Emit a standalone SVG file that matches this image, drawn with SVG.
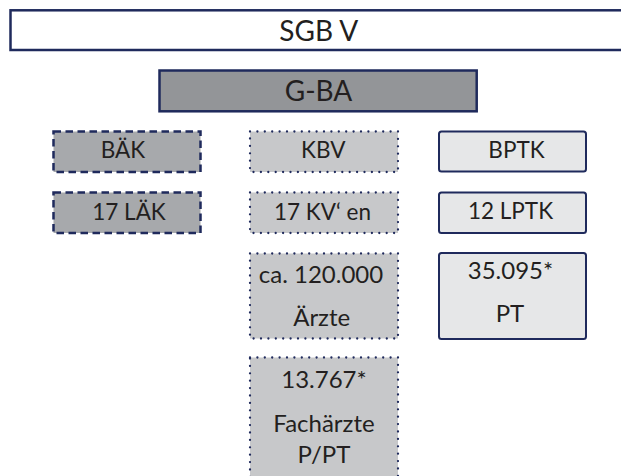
<svg xmlns="http://www.w3.org/2000/svg" width="621" height="476" viewBox="0 0 621 476">
<style>
text{font-family:Lato,"Liberation Sans",Arial,sans-serif;fill:#231f20;text-anchor:middle}
.big{font-size:28px}
.sm{font-size:22.5px}
.md{font-size:24px}
.solid{stroke:#1f2a5c;stroke-width:2.5}
.dash{fill:#a7a9ac;stroke:#1f2a5c;stroke-width:2.5;stroke-dasharray:7.5 4.5}
.dot{fill:#c7c8ca;stroke:#1f2a5c;stroke-width:2.3;stroke-dasharray:0 7.4;stroke-linecap:round}
.pt{fill:#e6e7e8;stroke:#1f2a5c;stroke-width:2}
</style>
<rect width="621" height="476" fill="#ffffff"/>
<g id="sgbv"><rect class="solid" x="10.5" y="10.3" width="620" height="39.7" fill="#ffffff"/><text class="big" x="318.7" y="41">SGB V</text></g>
<g id="gba"><rect class="solid" x="159.5" y="70.5" width="317.2" height="40.8" fill="#939598"/><text class="big" x="318.5" y="101">G-BA</text></g>
<g id="baek"><rect class="dash" x="53.5" y="131.5" width="147" height="40.5"/><text class="sm" x="123" y="158.3">BÄK</text></g>
<g id="laek"><rect class="dash" x="53.5" y="192.5" width="147" height="40.5"/><text class="sm" x="129" y="220">17 LÄK</text></g>
<g id="kbv"><rect class="dot" x="250" y="131.5" width="148" height="40.5"/><text class="sm" x="323.3" y="158.3">KBV</text></g>
<g id="kven"><rect class="dot" x="250" y="192.5" width="148" height="40.5"/><text class="sm" x="322.5" y="220">17 KV‘ en</text></g>
<g id="aerzte"><rect class="dot" x="250" y="253.5" width="148" height="85"/><text class="md" x="321" y="282.5">ca. 120.000</text><text class="md" x="321.7" y="326">Ärzte</text></g>
<g id="fachaerzte"><rect class="dot" x="250" y="357.5" width="148" height="130"/><text class="md" x="324" y="388.3">13.767*</text><text class="md" x="324" y="431.7">Fachärzte</text><text class="md" x="324" y="462.7">P/PT</text></g>
<g id="bptk"><rect class="pt" x="439" y="131.5" width="147" height="40" rx="2.5"/><text class="sm" x="516.5" y="158.3">BPTK</text></g>
<g id="lptk"><rect class="pt" x="439" y="192.5" width="147" height="40.5" rx="2.5"/><text class="sm" x="510.5" y="219.3">12 LPTK</text></g>
<g id="pt"><rect class="pt" x="439" y="253" width="147" height="86" rx="2.5"/><text class="md" x="510.5" y="279.3">35.095*</text><text class="md" x="510" y="321.7">PT</text></g>
<g id="connectors"/>
</svg>
